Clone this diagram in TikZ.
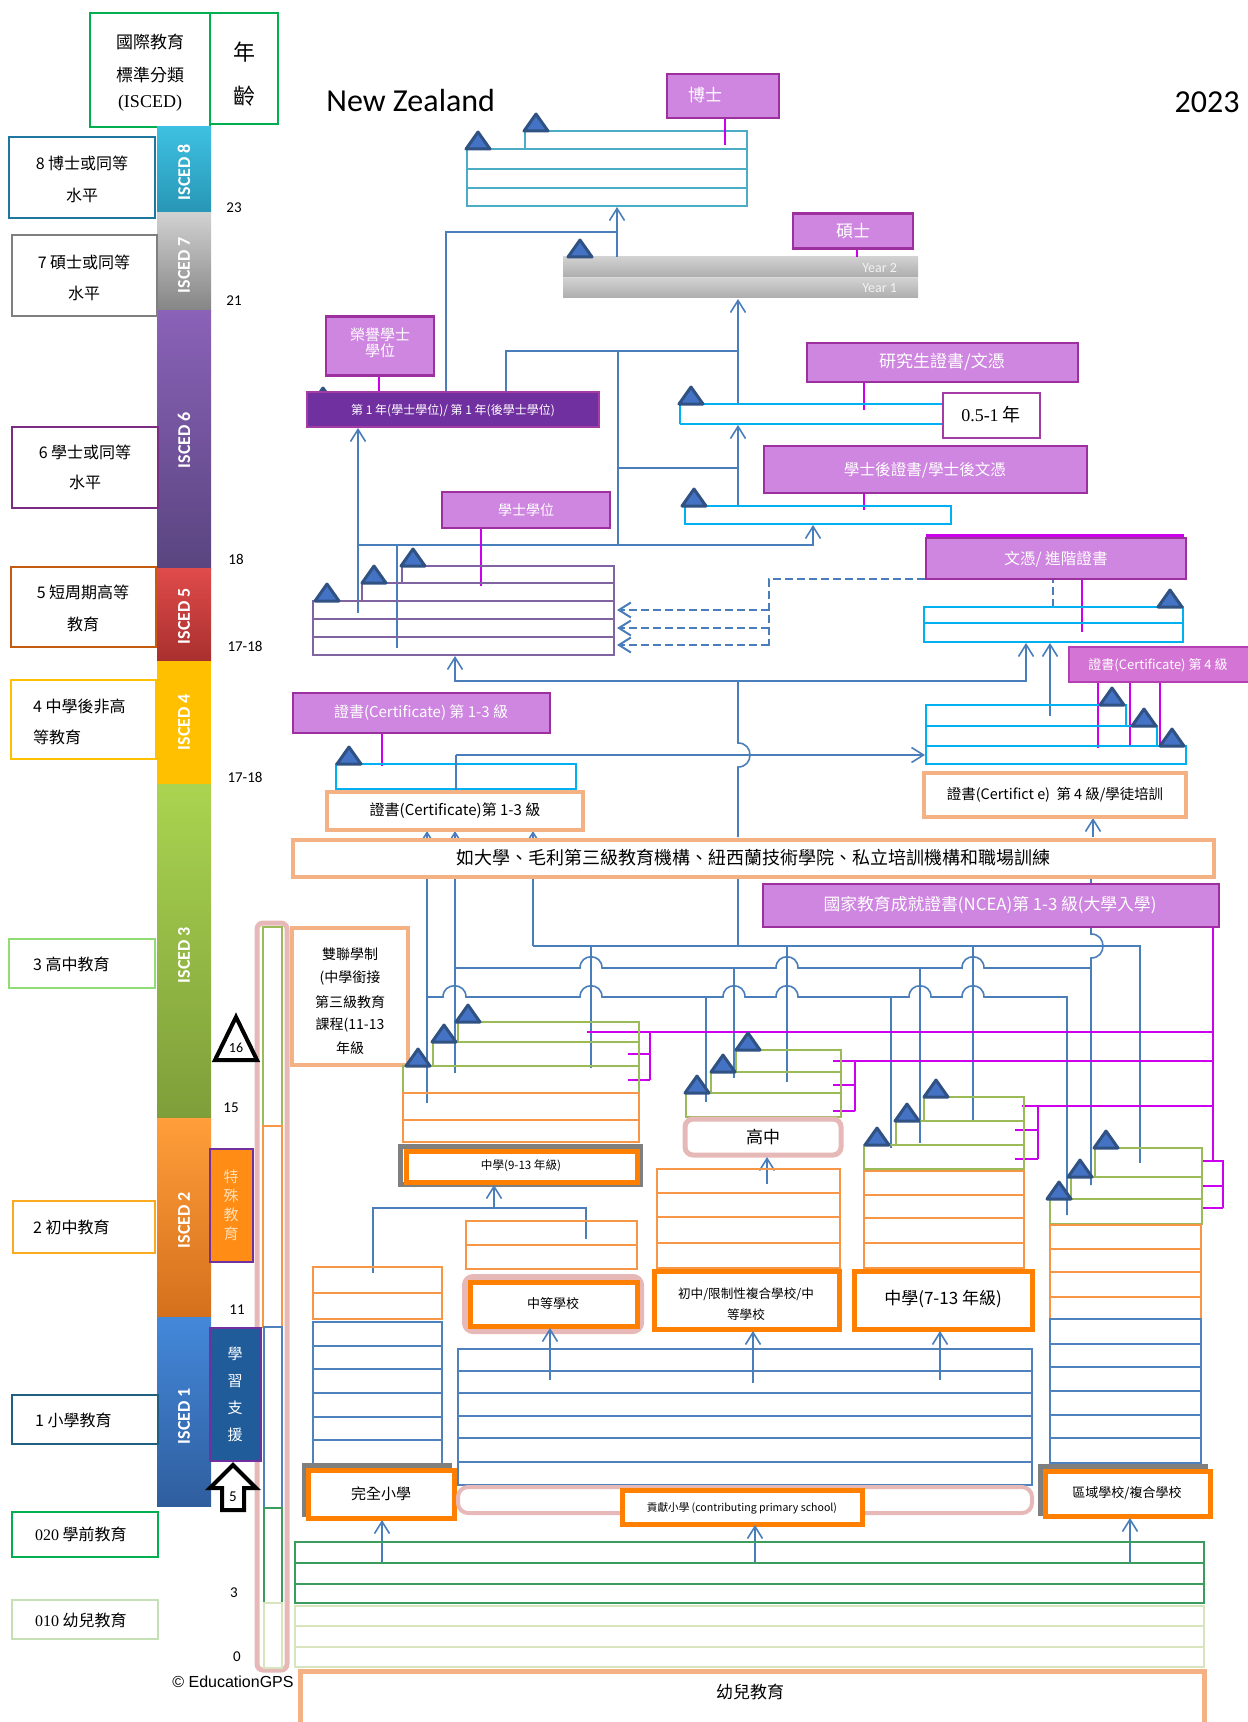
\documentclass[tikz,border=0pt]{standalone}
\usepackage{fontspec}
\setmainfont{Noto Sans CJK TC}
\newfontfamily\carl{Carlito}
\newfontfamily\tnr{Liberation Serif}
\newfontfamily\arl{Liberation Sans}
\usetikzlibrary{arrows.meta}
\definecolor{magf}{HTML}{CF86E0}
\definecolor{magd}{HTML}{9E2F9E}
\definecolor{magl}{HTML}{CC00EE}
\definecolor{cyanc}{HTML}{00B0F0}
\definecolor{tealc}{HTML}{4BACC6}
\definecolor{purc}{HTML}{8064A2}
\definecolor{grnc}{HTML}{9BBB59}
\definecolor{orgc}{HTML}{F79646}
\definecolor{bluc}{HTML}{4F81BD}
\definecolor{dgrn}{HTML}{3A9D5D}
\definecolor{lgrn}{HTML}{D7E4BD}
\definecolor{borg}{HTML}{FF8000}
\definecolor{pinkg}{HTML}{E6B8B7}
\definecolor{lorg}{HTML}{F4B183}
\definecolor{cnc}{HTML}{4A7EBB}
\definecolor{trid}{HTML}{2F5283}
\definecolor{trif}{HTML}{4472C4}
\definecolor{hdrg}{HTML}{00B050}
\definecolor{grayb}{HTML}{7F7F7F}
\newcommand\myfs[2]{\fontsize{#1}{#2}\selectfont}
\newcommand\mytri[2]{\filldraw[tri] ({#1-12},#2) -- ({#1+12},#2) -- (#1,{#2-17}) -- cycle;}
\begin{document}
\begin{tikzpicture}[x=0.5pt,y=-0.5pt,
  cn/.style={draw=cnc,line width=0.8pt},
  arr/.style={-{Straight Barb[length=6pt,width=7.5pt]}},
  tri/.style={fill=trif,draw=trid,line width=1.5pt,line join=round},
  magbox/.style={fill=magf,draw=magd,line width=1.2pt},
  ml/.style={draw=magl,line width=0.9pt},
  rt/.style={draw=tealc,line width=0.8pt},
  rc/.style={draw=cyanc,line width=1.1pt},
  rp/.style={draw=purc,line width=0.8pt},
  rg/.style={draw=grnc,line width=0.9pt},
  ro/.style={draw=orgc,line width=0.9pt},
  rb/.style={draw=bluc,line width=0.9pt},
  thick orange/.style={draw=borg,line width=2.5pt,fill=white},
  lbox/.style={draw=lorg,line width=2pt,fill=white},
  wt/.style={text=white},
  lab/.style={font=\myfs{8}{10}},
  age/.style={font=\carl\myfs{7.5}{9}},
  isc/.style={rotate=90,text=white,font=\carl\bfseries\myfs{9}{10}}
]
\useasboundingbox (0,0) rectangle (1247,1722);
% ---------------- header
\draw[draw=hdrg,line width=1.2pt] (90,13) rectangle (210,127);
\draw[draw=hdrg,line width=1.2pt] (210,13) rectangle (278,124);
\node (isA) at (150,42) {\myfs{8.5}{10}國際教育};
\node (isB) at (150,75) {\myfs{8.5}{10}標準分類};
\node (isC) at (150,103) {\tnr\myfs{9}{10}(ISCED)};
\node (ageA) at (244,52) {\myfs{11}{12}年};
\node (ageB) at (244,96) {\myfs{11}{12}齡};
\node[anchor=base west,inner sep=0pt] (nz) at (326,112) {\carl\myfs{16}{18}New Zealand};
\node[anchor=base east,inner sep=0pt] (yr) at (1240,113) {\carl\myfs{16}{18}2023};
% ---------------- ISCED bars
\shade[top color={rgb,255:red,62;green,192;blue,226}, bottom color={rgb,255:red,40;green,150;blue,180}] (157,127) rectangle (211,213);
\shade[top color=black!18, bottom color=black!48] (157,213) rectangle (211,311);
\shade[top color={rgb,255:red,138;green,98;blue,184}, bottom color={rgb,255:red,90;green,69;blue,128}] (157,311) rectangle (211,568);
\shade[top color={rgb,255:red,224;green,75;blue,75}, bottom color={rgb,255:red,168;green,48;blue,46}] (157,568) rectangle (211,661);
\fill[color={rgb,255:red,255;green,192;blue,0}] (157,661) rectangle (211,784);
\shade[top color={rgb,255:red,170;green,212;blue,80}, bottom color={rgb,255:red,126;green,158;blue,58}] (157,784) rectangle (211,1118);
\shade[top color={rgb,255:red,255;green,158;blue,58}, bottom color={rgb,255:red,212;green,112;blue,28}] (157,1118) rectangle (211,1317);
\shade[top color={rgb,255:red,68;green,136;blue,218}, bottom color={rgb,255:red,47;green,94;blue,158}] (157,1317) rectangle (211,1506);
\node[isc] (i8) at (184,172) {ISCED 8};
\node[isc] (i7) at (184,265) {ISCED 7};
\node[isc] (i6) at (184,440) {ISCED 6};
\node[isc] (i5) at (184,616) {ISCED 5};
\node[isc] (i4) at (184,722) {ISCED 4};
\node[isc] (i3) at (184,955) {ISCED 3};
\node[isc] (i2) at (184,1220) {ISCED 2};
\node[isc] (i1) at (184,1416) {ISCED 1};
% ---------------- left labels
\draw[draw={rgb,255:red,31;green,119;blue,160},line width=1.2pt] (9,137) rectangle (155,218);
\node[lab] (l8a) at (82,163) {8 博士或同等};
\node[lab] (l8b) at (82,195) {水平};
\draw[draw=grayb,line width=1.2pt] (12,235) rectangle (157,316);
\node[lab] (l7a) at (84,262) {7 碩士或同等};
\node[lab] (l7b) at (84,293) {水平};
\draw[draw={rgb,255:red,123;green,44;blue,131},line width=1.2pt] (12,427) rectangle (158,508);
\node[lab] (l6a) at (85,452) {6 學士或同等};
\node[lab] (l6b) at (85,482) {水平};
\draw[draw={rgb,255:red,197;green,90;blue,17},line width=1.2pt] (11,567) rectangle (156,647);
\node[lab] (l5a) at (83,592) {5 短周期高等};
\node[lab] (l5b) at (83,624) {教育};
\draw[draw={rgb,255:red,255;green,192;blue,0},line width=1.2pt] (11,680) rectangle (156,759);
\node[lab,anchor=west] (l4a) at (26,706) {4 中學後非高};
\node[lab,anchor=west] (l4b) at (26,737) {等教育};
\draw[draw={rgb,255:red,146;green,220;blue,120},line width=1.2pt] (9,939) rectangle (155,988);
\node[lab,anchor=west] (l3) at (26,964) {3 高中教育};
\draw[draw={rgb,255:red,250;green,170;blue,30},line width=1.2pt] (13,1201) rectangle (155,1253);
\node[lab,anchor=west] (l2) at (26,1227) {2 初中教育};
\draw[draw={rgb,255:red,31;green,95;blue,127},line width=1.2pt] (12,1395) rectangle (158,1444);
\node[lab,anchor=west] (l1) at (28,1420) {1 小學教育};
\draw[draw=hdrg,line width=1.2pt] (12,1512) rectangle (158,1557);
\node[lab,anchor=west] (l020) at (28,1534) {{\tnr 020} 學前教育};
\draw[draw={rgb,255:red,197;green,224;blue,180},line width=1.2pt] (12,1600) rectangle (158,1639);
\node[lab,anchor=west] (l010) at (28,1620) {{\tnr 010} 幼兒教育};
% ages
\node[age] (a23) at (234,208) {23};
\node[age] (a21) at (234,301) {21};
\node[age] (a18) at (236,559) {18};
\node[age] (a1718a) at (245,646) {17-18};
\node[age] (a1718b) at (245,777) {17-18};
\node[age] (a15) at (231,1108) {15};
\node[age] (a11) at (237,1310) {11};
\node[age] (a3) at (234,1593) {3};
\node[age] (a0) at (237,1657) {0};
\node (cpy) at (233,1682) {\arl\myfs{8}{9}© EducationGPS};
% ---------------- ISCED 8
\draw[rt] (525,131) rectangle (747,149);
\draw[rt] (467,149) rectangle (747,206);
\draw[rt] (467,169) -- (747,169) (467,188) -- (747,188);
\mytri{478}{149}
\mytri{536}{131}
\draw[ml] (725,118) -- (725,145);
\node[magbox,minimum width=112*0.5pt,minimum height=44*0.5pt] (phd) at (723,96) {};
\node[wt] (phdt) at (705,95) {\myfs{8.5}{10}博士};
% ---------------- ISCED 7
\shade[top color=black!18,bottom color=black!32] (563,257) rectangle (918,277);
\shade[top color=black!18,bottom color=black!32] (563,278) rectangle (918,298);
\draw[white!85!black,line width=0.6pt] (563,277.5) -- (918,277.5);
\node[anchor=east,text=white!95!black] (y2) at (904,268) {\carl\myfs{7}{8}Year 2};
\node[anchor=east,text=white!95!black] (y1) at (904,288) {\carl\myfs{7}{8}Year 1};
\mytri{580}{257}
\draw[ml] (857,248) -- (857,257);
\node[magbox,minimum width=120*0.5pt,minimum height=35*0.5pt] (ms) at (853,231) {};
\node[wt] at (853,231) {\myfs{8.5}{10}碩士};
% connectors isced 6-8
\draw[cn] (446,392) -- (446,232) -- (617,232);
\draw[cn,arr] (617,257) -- (617,207);
\draw[cn] (506,392) -- (506,351) -- (738,351);
\draw[cn,arr] (738,404) -- (738,299);
\draw[cn] (618,545) -- (618,351);
\draw[cn] (618,468) -- (738,468);
\draw[cn,arr] (738,506) -- (738,425);
\draw[cn,arr] (358,613) -- (358,428);
\draw[cn,arr] (358,545) -- (813,545) -- (813,525);
\draw[cn] (397,648) -- (397,545);
% ---------------- ISCED 6
\mytri{323}{405}
\draw[ml] (379,376) -- (379,393);
\node[magbox,minimum width=108*0.5pt,minimum height=59*0.5pt] (hon) at (380,346) {};
\node[wt,align=center,font=\myfs{7.5}{8}] at (380,343) {榮譽學士\\學位};
\node[fill={rgb,255:red,112;green,48;blue,160},draw={rgb,255:red,165;green,60;blue,165},line width=1.2pt,minimum width=292*0.5pt,minimum height=35*0.5pt] (y1b) at (453,409.5) {};
\node[wt] at (453,411) {\myfs{6}{7}第 1 年(學士學位)/ 第 1 年(後學士學位)};
\draw[ml] (481,528) -- (481,586);
\node[magbox,minimum width=168*0.5pt,minimum height=36*0.5pt] (bach) at (526,510) {};
\node[wt] at (526,510) {\myfs{7}{8}學士學位};
\draw[ml] (864,382) -- (864,410);
\node[magbox,minimum width=271*0.5pt,minimum height=39*0.5pt] (pgc) at (942.5,362.5) {};
\node[wt] at (942,362) {\myfs{8.5}{10}研究生證書/文憑};
\draw[rc] (680,404) -- (943,404) (680,424) -- (943,424) (680,404) -- (680,424);
\mytri{691}{404}
\node[draw={rgb,255:red,165;green,60;blue,165},line width=0.8pt,fill=white,minimum width=97*0.5pt,minimum height=45*0.5pt] (half) at (991.5,415.5) {};
\node at (991,415) {\myfs{9}{10}{\tnr 0.5-1} 年};
\draw[ml] (864,493) -- (864,510);
\node[magbox,minimum width=323*0.5pt,minimum height=47*0.5pt] (pbc) at (925.5,469.5) {};
\node[wt] at (925,470) {\myfs{7.8}{9}學士後證書/學士後文憑};
\draw[rc] (685,506) rectangle (951,524);
\mytri{694}{506}
% ---------------- ISCED 5
\draw[rp] (402,566) rectangle (614,583);
\draw[rp] (362,583) rectangle (614,601);
\draw[rp] (313,601) rectangle (614,655);
\draw[rp] (313,619) -- (614,619) (313,637) -- (614,637);
\mytri{413}{566}
\mytri{374}{583}
\mytri{327}{601}
\draw[cn,dashed,dash pattern=on 4pt off 2pt,line width=1pt] (1053,607) -- (1053,579) -- (769,579) -- (769,646);
\draw[cn,dashed,dash pattern=on 4pt off 2pt,line width=1pt,arr] (769,610) -- (617,610);
\draw[cn,dashed,dash pattern=on 4pt off 2pt,line width=1pt,arr] (769,628) -- (617,628);
\draw[cn,dashed,dash pattern=on 4pt off 2pt,line width=1pt,arr] (769,645) -- (617,645);
\draw[ml] (1082,578) -- (1082,632);
\draw[draw=magl,line width=1.6pt] (926,536) -- (1184,536);
\node[magbox,minimum width=260*0.5pt,minimum height=41*0.5pt] (dip) at (1056,558.5) {};
\node[wt] at (1056,559) {\myfs{7.8}{9}文憑/ 進階證書};
\draw[rc] (924,607) rectangle (1183,642);
\draw[rc] (924,623) -- (1183,623);
\mytri{1170}{607}
\draw[cn,arr] (738,681) -- (455,681) -- (455,656);
\draw[cn,arr] (738,681) -- (1026,681) -- (1026,643);
\draw[cn,arr] (1050,716) -- (1050,643);
% ---------------- ISCED 4
\draw[ml] (1098,682) -- (1098,748) (1130,682) -- (1130,746) (1160,682) -- (1160,746);
\node[fill={rgb,255:red,212;green,116;blue,212},draw={rgb,255:red,180;green,64;blue,180},line width=1.2pt,minimum width=180*0.5pt,minimum height=35*0.5pt] (c4m) at (1159,664.5) {};
\node[wt] at (1158,665) {\myfs{6.5}{8}證書(Certificate) 第 4 級};
\draw[rc] (926,705) rectangle (1126,726);
\draw[rc] (926,726) rectangle (1157,746);
\draw[rc] (926,746) rectangle (1186,764);
\mytri{1112}{705}
\mytri{1144}{726}
\mytri{1172}{746}
\draw[ml] (382,733) -- (382,766);
\node[magbox,minimum width=257*0.5pt,minimum height=40*0.5pt] (c13m) at (421.5,713) {};
\node[wt] at (421,713) {\myfs{7.5}{9}證書(Certificate) 第 1-3 級};
\draw[rc] (336,764) rectangle (576,789);
\mytri{349}{764}
% lines through the tertiary box
\draw[cn,arr] (427,1103) -- (427,831);
\draw[cn,arr] (455,1073) -- (455,831);
\draw[cn,arr] (533,946) -- (533,831);
\draw[cn] (456,790) -- (456,755);
\draw[cn,arr] (456,755) -- (925,755);
\draw[cn] (738,837) -- (738,767) .. controls (754,767) and (754,743) .. (738,743) -- (738,681);
\draw[cn,arr] (1093,837) -- (1093,818);
\node[lbox,minimum width=256*0.5pt,minimum height=38*0.5pt] (c13o) at (455,811) {};
\node at (455,811) {\myfs{7.5}{9}證書(Certificate)第 1-3 級};
\node[lbox,minimum width=262*0.5pt,minimum height=44*0.5pt] (c4o) at (1055,795) {};
\node at (1055,795) {\myfs{7.2}{9}證書(Certifict e)\ \ 第 4 級/學徒培訓};
% ---------------- ISCED 3 connectors
\draw[cn] (738,877) -- (738,946);
\draw[cn] (533,946) -- (1140,946) -- (1140,1163);
\draw[cn] (1091,877) -- (1091,934) .. controls (1107,934) and (1107,958) .. (1091,958) -- (1091,1185);
\draw[cn] (454,968) -- (580,968) .. controls (580,953) and (602,953) .. (602,968) -- (776,968) .. controls (776,953) and (798,953) .. (798,968) -- (962,968) .. controls (962,953) and (984,953) .. (984,968) -- (1091,968);
\draw[cn] (427,997) -- (443,997) .. controls (443,982) and (466,982) .. (466,997) -- (580,997) .. controls (580,982) and (602,982) .. (602,997) -- (723,997) .. controls (723,982) and (745,982) .. (745,997) -- (776,997) .. controls (776,982) and (798,982) .. (798,997) -- (909,997) .. controls (909,982) and (931,982) .. (931,997) -- (962,997) .. controls (962,982) and (984,982) .. (984,997) -- (1067,997) -- (1067,1215);
\draw[cn] (591,946) -- (591,1068);
\draw[cn] (706,997) -- (706,1102);
\draw[cn] (734,968) -- (734,1078);
\draw[cn] (787,946) -- (787,1082);
\draw[cn] (891,997) -- (891,1148);
\draw[cn] (920,968) -- (920,1143);
\draw[cn] (973,946) -- (973,1122);
\node[draw=lorg,line width=2pt,fill=white,minimum width=921*0.5pt,minimum height=37*0.5pt] (tert) at (753.5,858.5) {};
\node at (753,858) {\myfs{9}{10}如大學、毛利第三級教育機構、紐西蘭技術學院、私立培訓機構和職場訓練};
\node[magbox,minimum width=456*0.5pt,minimum height=43*0.5pt] (ncea) at (991,905.5) {};
\node[wt] at (990,905) {\myfs{8.4}{10}國家教育成就證書(NCEA)第 1-3 級(大學入學)};
% magenta brackets
\draw[ml] (587,1032) -- (1213,1032);
\draw[ml] (650,1032) -- (650,1080) (628,1054) -- (650,1054) (628,1080) -- (650,1080);
\draw[ml] (833,1061) -- (1213,1061);
\draw[ml] (855,1061) -- (855,1111) (833,1085) -- (855,1085) (833,1111) -- (855,1111);
\draw[ml] (1022,1106) -- (1213,1106);
\draw[ml] (1038,1106) -- (1038,1159) (1015,1130) -- (1038,1130) (1015,1159) -- (1038,1159);
\draw[ml] (1213,927) -- (1213,1161) -- (1223,1161) -- (1223,1208);
\draw[ml] (1202,1161) -- (1223,1161) (1202,1186) -- (1223,1186) (1202,1208) -- (1223,1208);
% ---------------- left columns
\draw[pinkg,line width=2.5pt,rounded corners=3pt] (257,923) rectangle (287,1670);
\draw[rg] (263,927) rectangle (282,1126);
\draw[ro] (263,1126) rectangle (282,1327);
\draw[rb] (264,1327) rectangle (282,1508);
\draw[draw=dgrn,line width=0.9pt] (264,1508) rectangle (282,1603);
\draw[draw=lgrn,line width=0.9pt] (264,1603) rectangle (282,1668);
\node[fill={rgb,255:red,255;green,140;blue,20},draw={rgb,255:red,112;green,48;blue,160},line width=1.2pt,minimum width=43*0.5pt,minimum height=113*0.5pt] (spe) at (231.5,1205.5) {};
\node[align=center,text={rgb,255:red,255;green,222;blue,180},font=\myfs{7.5}{9.5}] at (231,1205) {特\\殊\\教\\育};
\node[fill={rgb,255:red,31;green,92;blue,153},draw={rgb,255:red,112;green,48;blue,160},line width=1.2pt,minimum width=51*0.5pt,minimum height=133*0.5pt] (lsp) at (235.5,1394.5) {};
\node[align=center,text=white,font=\myfs{7.5}{13.5}] at (235,1394) {學\\習\\支\\援};
\draw[black,line width=2pt,fill=white,line join=miter] (233,1465) -- (256,1488) -- (244,1488) -- (244,1510) -- (222,1510) -- (222,1488) -- (210,1488) -- cycle;
\node (five) at (233,1497) {\carl\myfs{7.5}{9}5};
\draw[black,line width=2pt,fill=white,line join=miter] (215,1060) -- (257,1060) -- (236,1017) -- cycle;
\node (sixteen) at (236,1048) {\carl\myfs{7}{8}16};
\node[lbox,minimum width=116*0.5pt,minimum height=137*0.5pt] (dual) at (350,996.5) {};
\node (d1) at (350,954) {\myfs{7}{8}雙聯學制};
\node (d2) at (350,978) {\myfs{7}{8}(中學銜接};
\node (d3) at (350,1002) {\myfs{7}{8}第三級教育};
\node (d4) at (350,1025) {\myfs{7}{8}課程(11-13};
\node (d5) at (350,1048) {\myfs{7}{8}年級};
% ---------------- block 1 (secondary 9-13)
\draw[rg] (458,1022) rectangle (639,1042);
\draw[rg] (433,1042) rectangle (639,1066);
\draw[rg] (403,1066) rectangle (639,1093);
\draw[ro] (403,1093) rectangle (639,1120);
\draw[ro] (403,1120) rectangle (639,1142);
\mytri{468}{1022}
\mytri{444}{1042}
\mytri{418}{1066}
\draw[draw=grayb,line width=2.5pt] (400,1146) rectangle (640,1184);
\node[thick orange,minimum width=231*0.5pt,minimum height=31*0.5pt] (s913) at (521.5,1166.5) {};
\node at (521,1166) {\myfs{5.8}{7}中學(9-13 年級)};
\draw[cn,arr] (494,1208) -- (494,1185);
\draw[cn] (373,1273) -- (373,1208) -- (586,1208) -- (586,1239);
% left block (full primary)
\draw[ro] (313,1267) rectangle (442,1293);
\draw[ro] (313,1293) rectangle (442,1319);
\foreach \y in {1322,1346,1369,1393,1417,1440} {\draw[rb] (313,\y) rectangle (442,\y+23.5);}
\draw[draw=grayb,line width=2.5pt] (304,1465) rectangle (449,1514);
\node[thick orange,minimum width=146*0.5pt,minimum height=48*0.5pt] (fps) at (381,1494) {};
\node at (381,1494) {\myfs{7.5}{9}完全小學};
\draw[cn,arr] (382,1563) -- (382,1520);
% middle block
\draw[ro] (466,1221) rectangle (637,1245);
\draw[ro] (466,1245) rectangle (637,1269);
\draw[pinkg,line width=3pt,rounded corners=4pt] (465,1277) rectangle (641,1331);
\node[thick orange,minimum width=167*0.5pt,minimum height=44*0.5pt] (sec) at (553.5,1304) {};
\node at (553,1303) {\myfs{6.5}{8}中等學校};
\draw[cn,arr] (550,1380) -- (550,1328);
% big blue block
\foreach \y/\z in {1349/1371,1371/1393,1393/1416,1416/1438,1438/1462,1462/1485} {\draw[rb] (458,\y) rectangle (1032,\z);}
\draw[pinkg,line width=2pt,rounded corners=5pt] (458,1487) rectangle (1032,1513);
\node[thick orange,minimum width=240*0.5pt,minimum height=34*0.5pt] (cps) at (742,1507) {};
\node at (742,1508) {\myfs{5.3}{7}貢獻小學 (contributing primary school)};
\draw[cn,arr] (755,1563) -- (755,1525);
% block 3
\draw[rg] (736,1050) rectangle (841,1072);
\draw[rg] (711,1072) rectangle (841,1093);
\draw[rg] (686,1093) rectangle (841,1117);
\mytri{748}{1050}
\mytri{723}{1072}
\mytri{697}{1093}
\node[draw=pinkg,line width=2.5pt,rounded corners=4pt,fill=white,minimum width=156*0.5pt,minimum height=36*0.5pt] (sh) at (763,1137) {};
\node at (763,1137) {\myfs{8.5}{10}高中};
\draw[cn,arr] (767,1184) -- (767,1157);
\foreach \y/\z in {1169/1193,1193/1217,1217/1243,1243/1268} {\draw[ro] (657,\y) rectangle (840,\z);}
\node[thick orange,minimum width=185*0.5pt,minimum height=58*0.5pt] (jun) at (746.5,1300) {};
\node[align=center,font=\myfs{6.3}{10.5}] at (746,1304) {初中/限制性複合學校/中\\等學校};
\draw[cn,arr] (753,1383) -- (753,1331);
% block 4
\draw[rg] (924,1097) rectangle (1024,1121);
\draw[rg] (896,1121) rectangle (1024,1145);
\draw[rg] (864,1145) rectangle (1024,1169);
\mytri{936}{1097}
\mytri{907}{1121}
\mytri{877}{1145}
\foreach \y/\z in {1171/1195,1195/1218,1218/1243,1243/1268} {\draw[ro] (864,\y) rectangle (1024,\z);}
\node[thick orange,minimum width=178*0.5pt,minimum height=58*0.5pt] (s713) at (943,1300) {};
\node at (943,1299) {\myfs{8.5}{10}中學(7-13 年級)};
\draw[cn,arr] (940,1380) -- (940,1331);
% block 5
\draw[rg] (1095,1148) rectangle (1202,1177);
\draw[rg] (1071,1177) rectangle (1202,1199);
\draw[rg] (1050,1199) rectangle (1202,1224);
\mytri{1106}{1148}
\mytri{1080}{1177}
\mytri{1059}{1199}
\foreach \y/\z in {1225/1249,1249/1272,1272/1297,1297/1319} {\draw[ro] (1050,\y) rectangle (1201,\z);}
\foreach \y/\z in {1319/1344,1344/1367,1367/1391,1391/1415,1415/1438,1438/1463} {\draw[rb] (1050,\y) rectangle (1201,\z);}
\draw[draw=grayb,line width=2.5pt] (1040,1466) rectangle (1205,1513);
\node[thick orange,minimum width=165*0.5pt,minimum height=45*0.5pt] (area) at (1127.5,1493.5) {};
\node at (1127,1493) {\myfs{6.5}{8}區域學校/複合學校};
\draw[cn,arr] (1130,1563) -- (1130,1518);
% ---------------- early childhood
\foreach \y/\z in {1542/1563,1563/1584,1584/1603} {\draw[draw=dgrn,line width=0.9pt] (295,\y) rectangle (1204,\z);}
\foreach \y/\z in {1606/1626,1626/1647,1647/1667} {\draw[draw=lgrn,line width=0.9pt] (295,\y) rectangle (1204,\z);}
\draw[draw=lorg,line width=2.5pt] (300,1760) -- (300,1671) -- (1204,1671) -- (1204,1760);
\node (ece) at (750,1692) {\myfs{8.5}{10}幼兒教育};
\end{tikzpicture}
\end{document}
